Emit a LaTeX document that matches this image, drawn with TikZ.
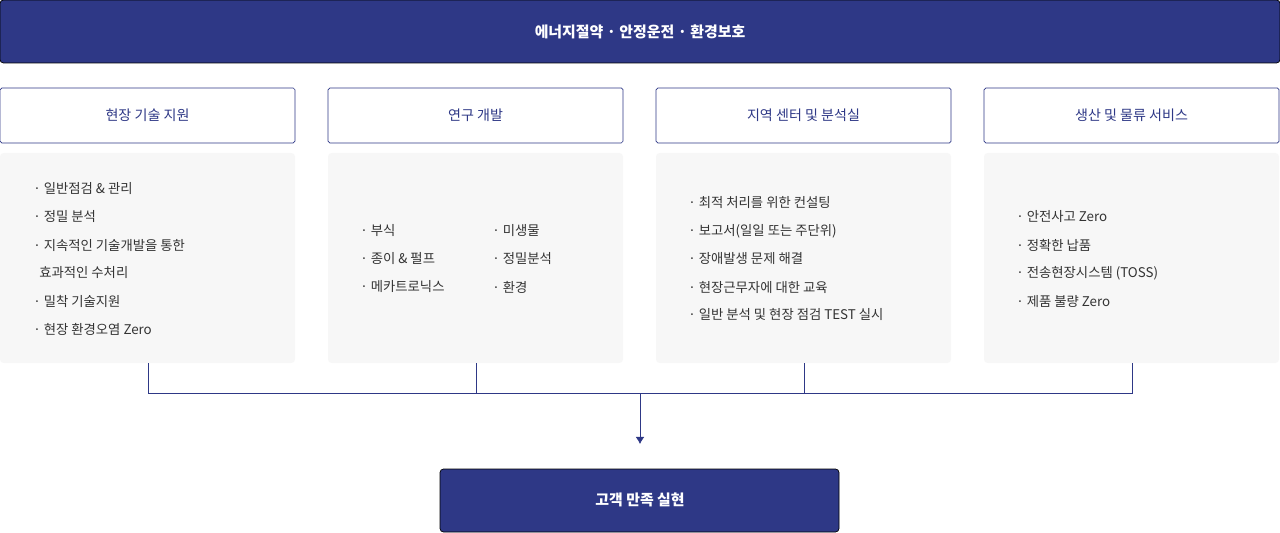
\documentclass[tikz,border=0pt]{standalone}
\usepackage{fontspec}
\setmainfont{Noto Sans CJK KR}
\usetikzlibrary{positioning,arrows.meta}
\definecolor{navy}{HTML}{2E3886}
\definecolor{boxgray}{HTML}{F7F7F7}
\definecolor{txtgray}{HTML}{333333}
\tikzset{
  banner/.style={fill=navy, rounded corners=2pt, text=white, font=\fontsize{8.5}{10}\selectfont\bfseries},
  headbox/.style={draw=navy, fill=white, rounded corners=1pt, text=navy, font=\fontsize{8}{10}\selectfont},
  itembox/.style={fill=boxgray, rounded corners=2pt},
  item/.style={anchor=west, text=txtgray, inner sep=0pt, font=\fontsize{7.6}{9}\selectfont},
  link/.style={draw=navy, line width=0.5pt}
}
\begin{document}
\begin{tikzpicture}[x=0.02cm, y=-0.02cm]
  \useasboundingbox (0,0) rectangle (1280,533);
  % top and bottom banners
  \draw[banner] (0,0) rectangle (1280,63);
  \node[text=white, font=\fontsize{8.5}{10}\selectfont\bfseries] (goal) at (640,31.5) {에너지절약 · 안정운전 · 환경보호};
  \draw[banner] (440,469) rectangle (839,532);
  \node[text=white, font=\fontsize{8.5}{10}\selectfont\bfseries] (result) at (640,500) {고객 만족 실현};
  % columns
  \foreach \x/\name/\title in {0/site/현장 기술 지원, 328/rnd/연구 개발, 656/center/지역 센터 및 분석실, 984/prod/생산 및 물류 서비스}
  {
    \draw[headbox] (\x,88) rectangle (\x+295,143);
    \node[text=navy, font=\fontsize{8}{10}\selectfont] (\name) at (\x+147.5,115.5) {\title};
    \fill[itembox] (\x,153) rectangle (\x+295,363);
    \coordinate (\name-out) at (\x+148,363);
  }
  % items
  \foreach \t [count=\i from 0] in {· 일반점검 \& 관리, · 정밀 분석, · 지속적인 기술개발을 통한, \ \ 효과적인 수처리, · 밀착 기술지원, · 현장 환경오염 Zero}
    \node[item] at (33,189+28*\i) {\t};
  \foreach \t [count=\i from 0] in {· 부식, · 종이 \& 펄프, · 메카트로닉스}
    \node[item] at (360,231+28*\i) {\t};
  \foreach \t [count=\i from 0] in {· 미생물, · 정밀분석, · 환경}
    \node[item] at (492,231+28*\i) {\t};
  \foreach \t [count=\i from 0] in {· 최적 처리를 위한 컨설팅, · 보고서(일일 또는 주단위), · 장애발생 문제 해결, · 현장근무자에 대한 교육, · 일반 분석 및 현장 점검 TEST 실시}
    \node[item] at (688,203+28*\i) {\t};
  \foreach \t [count=\i from 0] in {· 안전사고 Zero, · 정확한 납품, · 전송현장시스템 (TOSS), · 제품 불량 Zero}
    \node[item] at (1016,217+28*\i) {\t};
  % connectors
  \coordinate (join) at (640,393);
  \coordinate (arrowend) at (640,444);
  \draw[link] (site-out) |- (prod-out |- join) -- (prod-out);
  \draw[link] (rnd-out) -- (rnd-out |- join);
  \draw[link] (center-out) -- (center-out |- join);
  \draw[link, -{Latex[length=4pt,width=5pt]}] (join) -- (arrowend);
\end{tikzpicture}
\end{document}
